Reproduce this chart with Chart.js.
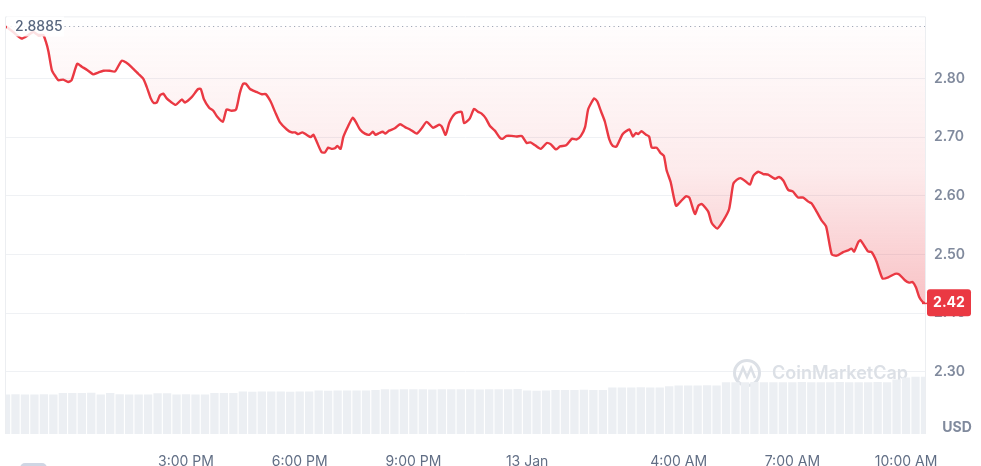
<!DOCTYPE html>
<html>
<head>
<meta charset="utf-8">
<script src="https://cdn.jsdelivr.net/npm/chart.js@4.4.1/dist/chart.umd.min.js"></script>
<style>
  html, body { margin: 0; padding: 0; background: #fff; }
  #wrap { width: 981px; height: 466px; position: relative; }
</style>
</head>
<body>
<div id="wrap"><canvas id="priceChart"></canvas></div>
<script>
// hours since 12 Jan 00:00
const times = [10.25,10.44,10.66,10.84,10.97,11.10,11.23,11.30,11.37,11.46,11.54,11.63,11.76,11.89,11.98,12.13,12.25,12.40,12.55,12.68,12.82,12.99,13.13,13.30,13.42,13.57,13.74,13.87,13.96,14.07,14.15,14.23,14.31,14.40,14.49,14.58,14.73,14.89,14.97,15.15,15.32,15.39,15.47,15.61,15.72,15.82,15.97,16.07,16.20,16.32,16.42,16.51,16.58,16.69,16.86,17.00,17.10,17.23,17.35,17.48,17.66,17.79,17.88,17.96,18.07,18.18,18.29,18.36,18.45,18.58,18.67,18.75,18.84,18.93,18.99,19.08,19.15,19.28,19.40,19.48,19.59,19.72,19.84,19.93,20.00,20.10,20.19,20.26,20.36,20.51,20.65,20.78,20.91,21.09,21.22,21.35,21.52,21.68,21.75,21.85,21.95,22.10,22.27,22.34,22.49,22.60,22.71,22.80,22.91,23.02,23.15,23.28,23.35,23.46,23.59,23.72,23.86,23.99,24.09,24.21,24.36,24.52,24.62,24.76,24.87,25.03,25.18,25.31,25.42,25.53,25.61,25.70,25.77,25.85,25.95,26.05,26.17,26.26,26.36,26.52,26.70,26.79,26.87,26.93,27.02,27.14,27.22,27.29,27.42,27.52,27.61,27.68,27.79,27.93,28.05,28.19,28.28,28.43,28.52,28.61,28.78,28.87,29.02,29.18,29.33,29.44,29.53,29.63,29.77,29.88,29.97,30.10,30.23,30.36,30.54,30.65,30.76,30.89,31.01,31.15,31.29,31.42,31.51,31.64,31.77,31.89,32.04,32.17,32.34,32.47,32.56,32.63,32.74,32.80,33.00,33.09,33.22,33.38,33.53,33.71,33.82,33.97,34.08,34.17,34.26,34.35,34.44,34.50];
const prices = [2.8885,2.879,2.868,2.874,2.879,2.874,2.874,2.863,2.846,2.814,2.805,2.797,2.798,2.794,2.797,2.825,2.820,2.814,2.807,2.810,2.813,2.813,2.812,2.830,2.827,2.819,2.808,2.7995,2.786,2.766,2.758,2.759,2.771,2.774,2.766,2.761,2.755,2.764,2.759,2.768,2.782,2.782,2.765,2.750,2.745,2.735,2.726,2.747,2.745,2.747,2.775,2.791,2.791,2.782,2.777,2.773,2.7735,2.761,2.743,2.725,2.713,2.708,2.708,2.705,2.708,2.704,2.700,2.704,2.692,2.674,2.674,2.682,2.680,2.681,2.685,2.680,2.700,2.719,2.733,2.726,2.713,2.706,2.704,2.709,2.704,2.707,2.709,2.706,2.711,2.715,2.722,2.717,2.713,2.706,2.715,2.726,2.716,2.721,2.718,2.704,2.725,2.740,2.743,2.724,2.732,2.748,2.743,2.740,2.732,2.719,2.711,2.699,2.697,2.702,2.702,2.701,2.702,2.690,2.691,2.686,2.680,2.690,2.688,2.679,2.684,2.686,2.697,2.696,2.702,2.717,2.747,2.759,2.766,2.761,2.744,2.727,2.696,2.685,2.684,2.705,2.713,2.701,2.707,2.705,2.710,2.704,2.701,2.682,2.682,2.673,2.668,2.644,2.623,2.583,2.590,2.599,2.597,2.569,2.583,2.586,2.573,2.554,2.544,2.558,2.577,2.620,2.627,2.630,2.6245,2.619,2.634,2.641,2.637,2.636,2.629,2.632,2.626,2.610,2.6075,2.597,2.597,2.590,2.587,2.573,2.558,2.548,2.500,2.498,2.504,2.507,2.510,2.505,2.521,2.524,2.505,2.504,2.488,2.459,2.461,2.467,2.466,2.456,2.452,2.453,2.444,2.427,2.419,2.417];

// 24h volume (millions USD), one bar per 15 minutes from 10:15
const volStart = 10.25;
const volumes = [418,419,417,418,420,418,434,433,434,435,418,434,419,418,417,418,431,431,418,419,418,417,434,434,433,448,447,448,449,448,447,448,448,459,458,459,460,459,459,466,472,471,472,473,472,471,472,472,473,472,471,472,472,473,474,459,458,459,466,465,466,467,466,466,492,491,492,493,492,491,505,513,512,513,514,513,547,546,547,548,547,546,547,547,548,547,546,547,548,547,547,546,548,547,575,598,605,605];

const openPrice = 2.8885;
const yTicks = [2.30, 2.40, 2.50, 2.60, 2.70, 2.80];
const xTickValues = [15, 18, 21, 24, 28, 31, 34];
const xTickLabels = ["3:00 PM", "6:00 PM", "9:00 PM", "13 Jan", "4:00 AM", "7:00 AM", "10:00 AM"];

const red = "#ea3943";
const fontFamily = "Inter, 'Noto Sans', sans-serif";

const priceData = times.map((t, i) => ({ x: t, y: prices[i] }));
const volData = volumes.map((v, i) => ({ x: volStart + i * 0.25, y: v }));

const overlay = {
  id: "overlay",
  beforeDatasetsDraw(chart){
    const { ctx, chartArea: a } = chart;
    ctx.save();
    ctx.strokeStyle = "#eceef1";
    ctx.lineWidth = 1;
    ctx.beginPath();
    ctx.moveTo(a.left - 0.5, a.bottom);
    ctx.lineTo(a.left - 0.5, a.top - 0.5);
    ctx.lineTo(a.right + 0.5, a.top - 0.5);
    ctx.lineTo(a.right + 0.5, a.bottom);
    ctx.stroke();

    // watermark
    ctx.strokeStyle = "#dce0e6";
    ctx.lineWidth = 3;
    ctx.beginPath();
    ctx.arc(747, 373, 12.5, 0, Math.PI * 2);
    ctx.stroke();
    ctx.lineWidth = 2.5;
    ctx.beginPath();
    ctx.moveTo(738, 380);
    ctx.lineTo(743, 368);
    ctx.lineTo(747, 377);
    ctx.lineTo(751, 368);
    ctx.lineTo(755, 378);
    ctx.stroke();
    ctx.fillStyle = "#dce0e6";
    ctx.font = "600 18px " + fontFamily;
    ctx.textAlign = "left";
    ctx.textBaseline = "middle";
    ctx.fillText("CoinMarketCap", 772, 374);
    ctx.restore();
  },
  afterDatasetsDraw(chart){
    const { ctx, chartArea: a, scales } = chart;
    ctx.save();
    // open price label
    const yo = scales.y.getPixelForValue(openPrice);
    ctx.fillStyle = "rgba(255,255,255,0.85)";
    ctx.fillRect(a.left + 1, yo - 10, 57, 20);
    ctx.fillStyle = "#58667e";
    ctx.font = "500 14px " + fontFamily;
    ctx.textAlign = "left";
    ctx.textBaseline = "middle";
    ctx.fillText(openPrice.toFixed(4), a.left + 9, yo);

    // last price tag
    const last = prices[prices.length - 1];
    const yl = scales.y.getPixelForValue(last);
    ctx.fillStyle = red;
    ctx.fillRect(a.right - 3, yl - 0.5, 6, 1.5);
    ctx.beginPath();
    ctx.roundRect(a.right + 2, yl - 14, 44, 27, 3);
    ctx.fill();
    ctx.fillStyle = "#fff";
    ctx.font = "700 14px " + fontFamily;
    ctx.textAlign = "center";
    ctx.fillText(last.toFixed(2), a.right + 24, yl);

    // currency label
    ctx.fillStyle = "#808a9d";
    ctx.font = "700 14px " + fontFamily;
    ctx.fillText("USD", 957, 428);

    // cut-off control at bottom left
    ctx.fillStyle = "#cfd6e4";
    ctx.beginPath();
    ctx.roundRect(20, 463, 27, 10, 5);
    ctx.fill();
    ctx.restore();
  }
};

new Chart(document.getElementById("priceChart"), {
  data: {
    datasets: [
      {
        type: "line",
        label: "Price",
        data: priceData,
        borderColor: red,
        borderWidth: 2.4,
        pointRadius: 0,
        tension: 0.2,
        order: 1,
        fill: { value: openPrice },
        backgroundColor: (context) => {
          const chart = context.chart;
          if(!chart.chartArea) return "transparent";
          const y0 = chart.scales.y.getPixelForValue(openPrice);
          const y1 = chart.scales.y.getPixelForValue(2.40);
          const g = chart.ctx.createLinearGradient(0, y0, 0, y1);
          g.addColorStop(0, "rgba(234,57,67,0.01)");
          g.addColorStop(0.5, "rgba(234,57,67,0.1)");
          g.addColorStop(1, "rgba(234,57,67,0.32)");
          return g;
        }
      },
      {
        type: "line",
        label: "Open",
        data: [{ x: times[0], y: openPrice }, { x: times[times.length - 1], y: openPrice }],
        borderColor: "#a1a9b8",
        borderWidth: 1.2,
        borderDash: [1.2, 3.3],
        pointRadius: 0,
        fill: false,
        order: 2
      },
      {
        type: "bar",
        label: "Volume",
        data: volData,
        yAxisID: "yv",
        backgroundColor: "#eceff3",
        barPercentage: 0.88,
        categoryPercentage: 1,
        order: 3
      }
    ]
  },
  options: {
    responsive: true,
    maintainAspectRatio: false,
    animation: false,
    layout: { padding: { left: 6, top: 5, right: 0, bottom: 0 } },
    plugins: { legend: { display: false }, tooltip: { enabled: false } },
    scales: {
      x: {
        type: "linear",
        min: 10.25,
        max: 34.5,
        offset: false,
        grid: { display: false, offset: false },
        border: { display: false },
        afterBuildTicks: axis => { axis.ticks = xTickValues.map(v => ({ value: v })); },
        afterFit: axis => { axis.height = 32; },
        ticks: {
          autoSkip: false,
          maxRotation: 0,
          padding: 11,
          color: "#616e85",
          font: { family: fontFamily, size: 14 },
          callback: (value, index) => xTickLabels[index]
        }
      },
      y: {
        position: "right",
        min: 2.194,
        max: 2.904,
        grid: { color: "#eff1f4", drawTicks: false },
        border: { display: false },
        afterBuildTicks: axis => { axis.ticks = yTicks.map(v => ({ value: v })); },
        afterFit: axis => { axis.width = 56; },
        ticks: {
          padding: 9,
          color: "#808a9d",
          font: { family: fontFamily, size: 14, weight: "600" },
          callback: value => value.toFixed(2)
        }
      },
      yv: {
        display: false,
        min: 0,
        max: 4400
      }
    }
  },
  plugins: [overlay]
});
</script>
</body>
</html>
